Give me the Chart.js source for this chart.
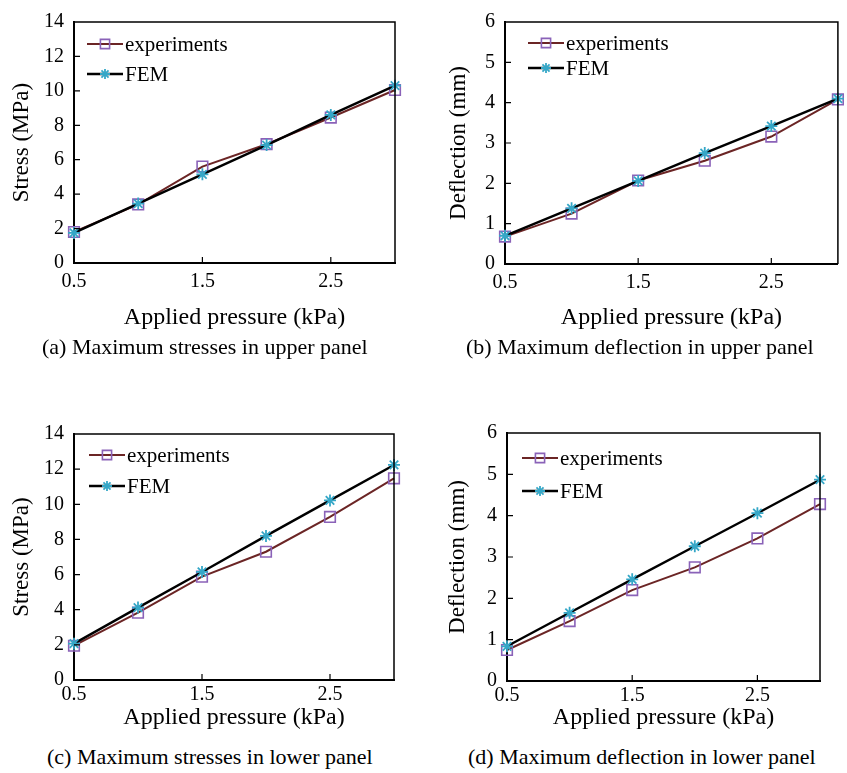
<!DOCTYPE html>
<html>
<head>
<meta charset="utf-8">
<script src="https://cdn.jsdelivr.net/npm/chart.js@4"></script>
<style>
  body { margin: 0; background: #fff; }
  #page { position: relative; width: 847px; height: 773px; overflow: hidden; }
  .panel { position: absolute; }
  .caption {
    position: absolute;
    font-family: "Liberation Serif", "Times New Roman", serif;
    font-size: 22px;
    line-height: 1;
    color: #000;
    white-space: nowrap;
  }
</style>
</head>
<body>
<div id="page">
  <canvas id="chartA" class="panel" width="424" height="335" style="left:0;top:0"></canvas>
  <canvas id="chartB" class="panel" width="423" height="335" style="left:424px;top:0"></canvas>
  <canvas id="chartC" class="panel" width="424" height="335" style="left:0;top:400px"></canvas>
  <canvas id="chartD" class="panel" width="423" height="335" style="left:424px;top:400px"></canvas>
  <div class="caption" style="left:42px;top:336px">(a) Maximum stresses in upper panel</div>
  <div class="caption" style="left:466px;top:336px">(b) Maximum deflection in upper panel</div>
  <div class="caption" style="left:47px;top:746px">(c) Maximum stresses in lower panel</div>
  <div class="caption" style="left:468px;top:746px">(d) Maximum deflection in lower panel</div>
</div>
<script>
// dati
const pressure = [0.5, 1, 1.5, 2, 2.5, 3];
const pressureTicks = [0.5, 1.5, 2.5];

const stressUpperExp = [1.8, 3.4, 5.6, 6.9, 8.45, 10.05];
const stressUpperFem = [1.75, 3.45, 5.15, 6.85, 8.6, 10.3];
const deflUpperExp = [0.68, 1.25, 2.07, 2.56, 3.16, 4.08];
const deflUpperFem = [0.7, 1.38, 2.06, 2.75, 3.42, 4.1];
const stressLowerExp = [1.95, 3.83, 5.88, 7.3, 9.28, 11.48];
const stressLowerFem = [2.07, 4.12, 6.15, 8.2, 10.22, 12.24];
const deflLowerExp = [0.75, 1.45, 2.2, 2.75, 3.45, 4.28];
const deflLowerFem = [0.84, 1.65, 2.46, 3.26, 4.06, 4.87];

const seriesNames = ['experiments', 'FEM'];
const xTitle = 'Applied pressure (kPa)';

const FONT = '"Liberation Serif", "Times New Roman", serif';
const EXP_LINE = '#6b2525';
const EXP_MARK = '#8a62b8';
const FEM_LINE = '#000000';
const FEM_MARK = '#35a7c7';

// cornice, tacche interne e legenda
const framePlugin = {
    id: 'frame',
    afterDraw(chart, args, opts) {
        const { ctx, chartArea: a, scales } = chart;
        ctx.save();
        ctx.strokeStyle = '#000';
        ctx.lineWidth = 1.5;
        ctx.beginPath();
        ctx.moveTo(a.left, a.top);
        ctx.lineTo(a.right, a.top);
        ctx.lineTo(a.right, a.bottom);
        ctx.stroke();

        // tacche verso l'interno
        ctx.lineWidth = 1.2;
        ctx.beginPath();
        scales.x.ticks.forEach(t => {
            const px = scales.x.getPixelForValue(t.value);
            if (px <= a.left + 1) return;
            ctx.moveTo(px, a.bottom);
            ctx.lineTo(px, a.bottom - 6);
        });
        scales.y.ticks.forEach(t => {
            const py = scales.y.getPixelForValue(t.value);
            if (py >= a.bottom - 1 || py <= a.top + 1) return;
            ctx.moveTo(a.left, py);
            ctx.lineTo(a.left + 6, py);
        });
        ctx.stroke();

        // legenda con linea e marcatore
        const lg = opts.legend;
        ctx.font = '21px ' + FONT;
        ctx.textBaseline = 'middle';
        chart.data.datasets.forEach((ds, i) => {
            const x0 = a.left + lg.x;
            const y0 = a.top + lg.rows[i];
            ctx.strokeStyle = ds.borderColor;
            ctx.lineWidth = ds.borderWidth;
            ctx.beginPath();
            ctx.moveTo(x0, y0);
            ctx.lineTo(x0 + 36, y0);
            ctx.stroke();
            ctx.strokeStyle = ds.pointBorderColor;
            ctx.fillStyle = 'rgba(0,0,0,0)';
            ctx.lineWidth = ds.pointBorderWidth;
            Chart.helpers.drawPoint(ctx, {
                pointStyle: ds.pointStyle,
                radius: ds.pointRadius - 1,
                borderWidth: ds.pointBorderWidth
            }, x0 + 18, y0);
            ctx.fillStyle = '#000';
            ctx.fillText(ds.label, x0 + 38, y0 + 1);
        });
        ctx.restore();
    }
};

function makePanel(id, p) {
    const ctx = document.getElementById(id).getContext('2d');
    const H = ctx.canvas.height;
    return new Chart(ctx, {
        type: 'line',
        data: {
            datasets: [{
                label: seriesNames[0],
                data: pressure.map((x, i) => ({ x: x, y: p.exp[i] })),
                borderColor: EXP_LINE,
                borderWidth: 2,
                pointStyle: 'rect',
                pointRadius: 7.5,
                pointBorderColor: EXP_MARK,
                pointBackgroundColor: 'rgba(0,0,0,0)',
                pointBorderWidth: 1.6,
                order: 1,
                clip: false
            }, {
                label: seriesNames[1],
                data: pressure.map((x, i) => ({ x: x, y: p.fem[i] })),
                borderColor: FEM_LINE,
                borderWidth: 2.4,
                pointStyle: 'star',
                pointRadius: 6,
                pointBorderColor: FEM_MARK,
                pointBackgroundColor: FEM_MARK,
                pointBorderWidth: 1.8,
                order: 0,
                clip: false
            }]
        },
        options: {
            responsive: false,
            animation: false,
            events: [],
            layout: { padding: { top: p.top, right: ctx.canvas.width - p.right, bottom: 0, left: 0 } },
            plugins: {
                legend: { display: false },
                tooltip: { enabled: false },
                frame: { legend: p.legend }
            },
            scales: {
                x: {
                    type: 'linear',
                    min: 0.5,
                    max: 3,
                    afterBuildTicks: (axis) => { axis.ticks = pressureTicks.map(v => ({ value: v })); },
                    afterFit: (axis) => { axis.height = H - p.bottom; },
                    grid: { display: false, drawTicks: false },
                    border: { display: true, color: '#000', width: 2 },
                    ticks: {
                        padding: p.xPad,
                        maxRotation: 0,
                        color: '#000',
                        font: { family: FONT, size: 20 },
                        callback: v => v.toFixed(1)
                    },
                    title: {
                        display: true,
                        text: xTitle,
                        color: '#000',
                        font: { family: FONT, size: 24 },
                        padding: { top: 0, bottom: 3 }
                    }
                },
                y: {
                    min: 0,
                    max: p.yMax,
                    afterFit: (axis) => { axis.width = p.left; },
                    grid: { display: false, drawTicks: false },
                    border: { display: true, color: '#000', width: 2 },
                    ticks: {
                        stepSize: p.yStep,
                        padding: 10,
                        color: '#000',
                        font: { family: FONT, size: 20 }
                    },
                    title: {
                        display: true,
                        text: p.yTitle,
                        color: '#000',
                        font: { family: FONT, size: 23 },
                        padding: { top: p.yTitlePad, bottom: 0 }
                    }
                }
            }
        },
        plugins: [framePlugin]
    });
}

makePanel('chartA', {
    exp: stressUpperExp, fem: stressUpperFem, yMax: 14, yStep: 2, yTitle: 'Stress (MPa)',
    left: 74, right: 395, top: 17, bottom: 263, xPad: 7, yTitlePad: 8,
    legend: { x: 13, rows: [22, 52] }
});
makePanel('chartB', {
    exp: deflUpperExp, fem: deflUpperFem, yMax: 6, yStep: 1, yTitle: 'Deflection (mm)',
    left: 81, right: 414, top: 17, bottom: 264, xPad: 7, yTitlePad: 21,
    legend: { x: 23, rows: [21, 46] }
});
makePanel('chartC', {
    exp: stressLowerExp, fem: stressLowerFem, yMax: 14, yStep: 2, yTitle: 'Stress (MPa)',
    left: 74, right: 394, top: 34, bottom: 280, xPad: 3, yTitlePad: 8,
    legend: { x: 15, rows: [21, 52] }
});
makePanel('chartD', {
    exp: deflLowerExp, fem: deflLowerFem, yMax: 6, yStep: 1, yTitle: 'Deflection (mm)',
    left: 83, right: 396, top: 33, bottom: 281, xPad: 3, yTitlePad: 20,
    legend: { x: 15, rows: [25, 58] }
});
</script>
</body>
</html>
